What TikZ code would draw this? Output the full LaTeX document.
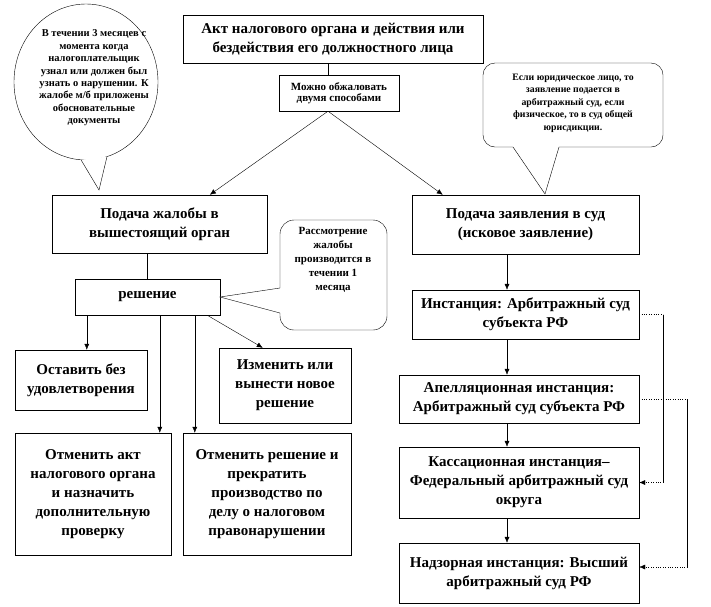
\documentclass[tikz,border=0pt]{standalone}
\usepackage{fontspec}
\setmainfont{Liberation Serif}
\usetikzlibrary{positioning,calc,arrows.meta}

\begin{document}
\begin{tikzpicture}[x=1pt,y=-1pt,
    box/.style={draw, fill=white, align=center, inner sep=2pt, font=\fontsize{15}{19}\selectfont\bfseries},
    note/.style={align=center, inner sep=0pt, font=\fontsize{10.5}{12.4}\selectfont\bfseries},
    bubble/.style={draw, fill=white},
    >={Latex[length=6pt,width=5pt]}]
    \useasboundingbox (0,0) rectangle (711,606);

    % top
    \node[box, minimum width=300pt, minimum height=48pt] (akt) at (333,39) {Акт налогового органа и действия или\\бездействия его должностного лица};
    \node[box, minimum width=120pt, minimum height=36pt, font=\fontsize{11}{11.5}\selectfont\bfseries] (sposob) at (339,93) {Можно обжаловать\\двумя способами};
    \coordinate (split) at ($(sposob.south)+(-11,0)$);
    \draw (split |- akt.south) -- (split |- sposob.north);

    % callouts
    \draw[bubble] (86,82) ellipse [x radius=72pt, y radius=78pt];
    \fill[white] (81,159.8) -- (99,190) -- (107,156.6) -- cycle;
    \draw (81,159.8) -- (99,190) -- (107,156.6);
    \node[note] (srok) at (94,78) {В течении 3 месяцев с\\момента когда\\налогоплательщик\\узнал или должен был\\узнать о нарушении. К\\жалобе м/б приложены\\обосновательные\\документы};

    \draw[bubble] (545,194) -- (513,147) [rounded corners=12pt] -- (483,147) -- (483,63) -- (663,63) -- (663,147) [sharp corners] -- (559,147) -- cycle;
    \node[note, font=\fontsize{9.8}{12.5}\selectfont\bfseries] (podsud) at (573,103) {Если юридическое лицо, то\\заявление подается в\\арбитражный суд, если\\физическое, то в суд общей\\юрисдикции.};

    % left branch
    \node[box, minimum width=215pt, minimum height=58pt] (zhaloba) at (159.5,224) {Подача жалобы в\\вышестоящий орган};
    \node[box, minimum width=145pt, minimum height=36pt] (reshenie) at (147.5,297) {решение};
    \draw[bubble] (220,297) -- (280,288) [rounded corners=14pt] -- (280,220) -- (387,220) -- (387,330) -- (280,330) [sharp corners] -- (280,313) -- cycle;
    \node[note, font=\fontsize{11}{14}\selectfont\bfseries] (mesyac) at (333,260) {Рассмотрение\\жалобы\\производится в\\течении 1\\месяца};

    \node[box, minimum width=132pt, minimum height=60pt] (ostavit) at (81,380) {Оставить без\\удовлетворения};
    \node[box, minimum width=132pt, minimum height=75pt] (izmenit) at (285,385.5) {Изменить или\\вынести новое\\решение};
    \node[box, minimum width=156pt, minimum height=122pt] (otmakt) at (93,494) {Отменить акт\\налогового органа\\и назначить\\дополнительную\\проверку};
    \node[box, minimum width=168pt, minimum height=122pt] (otmresh) at (267,494) {Отменить решение и\\прекратить\\производство по\\делу о налоговом\\правонарушении};

    \draw[->] (split) -- ($(zhaloba.north west)+(158,0)$);
    \draw (reshenie.north) -- (reshenie.north |- zhaloba.south);
    \draw[->] ($(reshenie.south west)+(12,0)$) coordinate (d1) -- (d1 |- ostavit.north);
    \draw[->] ($(reshenie.south west)+(85,0)$) coordinate (d2) -- (d2 |- otmakt.north);
    \draw[->] ($(reshenie.south west)+(120,0)$) coordinate (d3) -- (d3 |- otmresh.north);
    \draw[->] ($(reshenie.south east)+(-13,0)$) -- ($(izmenit.north west)+(44,0)$);

    % right branch
    \node[box, minimum width=227pt, minimum height=59pt] (isk) at (525.5,224.5) {Подача заявления в суд\\(исковое заявление)};
    \node[box, minimum width=227pt, minimum height=49pt] (inst) at (525.5,314.5) {Инстанция: Арбитражный суд\\субъекта РФ};
    \node[box, minimum width=240pt, minimum height=48pt] (apel) at (519,399) {Апелляционная инстанция:\\Арбитражный суд субъекта РФ};
    \node[box, minimum width=240pt, minimum height=71pt] (kass) at (519,482.5) {Кассационная инстанция–\\Федеральный арбитражный суд\\округа};
    \node[box, minimum width=240pt, minimum height=60pt] (nadz) at (519,573) {Надзорная инстанция: Высший\\арбитражный суд РФ};

    \draw[->] (split) -- ($(isk.north west)+(31,0)$);
    \coordinate (axis) at (507,0);
    \foreach \a/\b in {isk/inst,inst/apel,apel/kass,kass/nadz}{
      \draw[->] (\a.south -| axis) -- (\b.north -| axis);
    }

    \draw[dotted] (inst.east) -- ++(24,0) coordinate (r1);
    \draw (r1) -- (r1 |- kass.east) coordinate (r2);
    \draw[dotted,->] (r2) -- (kass.east);
    \draw[dotted] (apel.east) -- ++(48,0) coordinate (r3);
    \draw (r3) -- ($(r3 |- nadz.east)+(0,-6)$) coordinate (r4);
    \draw[dotted,->] (r4) -- ($(nadz.east)+(0,-6)$);

\end{tikzpicture}
\end{document}
